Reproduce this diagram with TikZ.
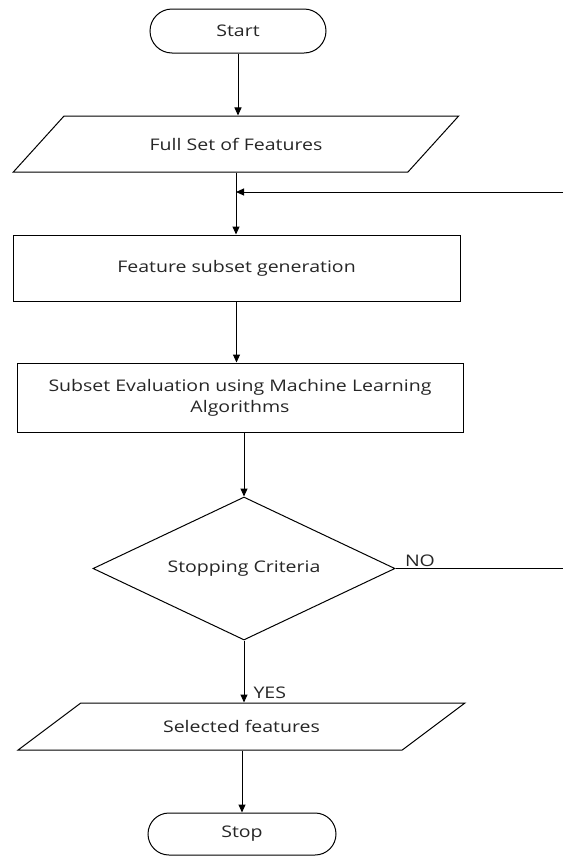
\documentclass[tikz,border=0pt]{standalone}
\usepackage{fontspec}
\setmainfont{Open Sans}[FakeStretch=1.22]
\usetikzlibrary{shapes.geometric,shapes.misc,arrows.meta,calc}
\tikzset{
  base/.style={draw,line width=1pt,font=\fontsize{16}{21}\selectfont,text=black!85,align=center,inner sep=2pt},
  term/.style={base,rounded rectangle},
  io/.style={base,trapezium,trapezium stretches=true},
  proc/.style={base,rectangle},
  decide/.style={base,diamond,aspect=2.1,inner sep=0pt},
  arr/.style={line width=1pt,-{Triangle[length=8pt,width=7pt]}},
  lbl/.style={font=\fontsize{16}{21}\selectfont,text=black!85,inner sep=1pt}
}
\begin{document}
\begin{tikzpicture}[x=1pt,y=-1pt]
    \useasboundingbox (0,0) rectangle (563,857);
    \node[term,minimum width=180pt,minimum height=44pt](start)at(238,31){Start};
    \node[io,trapezium left angle=32.2,trapezium right angle=147.8,minimum width=446pt,minimum height=56pt](full)at(236,144){Full Set of Features};
    \node[proc,minimum width=447pt,minimum height=66pt](gen)at(236.5,268){Feature subset generation};
    \node[proc,minimum width=446pt,minimum height=69pt](eval)at(240,397.5){Subset Evaluation using Machine Learning\\Algorithms};
    \node[decide,minimum width=302pt,minimum height=143pt](stopc)at(244,568.5){Stopping Criteria};
    \node[io,trapezium left angle=27.6,trapezium right angle=152.4,minimum width=447pt,minimum height=47pt](sel)at(241.5,726.5){Selected features};
    \node[term,minimum width=192pt,minimum height=42pt](stop)at(242,834){Stop};
    \coordinate(loopin)at(563,192);
    \coordinate(noout)at(563,568.5);
    \draw[arr](start.south)--(start.south|-full.north);
    \draw[arr](full.south)--(full.south|-gen.north);
    \draw[arr](loopin)--(loopin-|full.south);
    \draw[arr](gen.south)--(gen.south|-eval.north);
    \draw[arr](eval.south-|stopc.north)--(stopc.north);
    \draw[line width=1pt](stopc.east)--node[lbl,pos=0,anchor=south west,xshift=8pt](no){NO}(noout);
    \draw[arr](stopc.south)--node[lbl,pos=0.85,right=8pt](yes){YES}(stopc.south|-sel.north);
    \draw[arr](sel.south-|stop.north)--(stop.north);
\end{tikzpicture}
\end{document}
